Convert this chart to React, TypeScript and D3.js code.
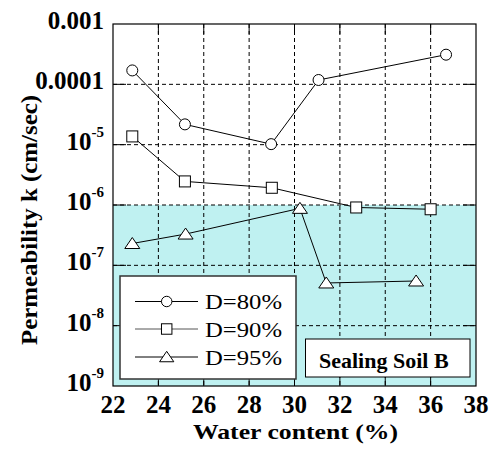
import React from "react";
import { scaleLinear, scaleLog, line } from "d3";

// water content (%) and permeability (cm/sec)
const d80x = [22.85, 25.17, 28.97, 31.06, 36.68];
const d80k = [1.7e-4, 2.17e-5, 1.02e-5, 1.18e-4, 3.1e-4];
const d90x = [22.85, 25.17, 29.0, 32.72, 36.0];
const d90k = [1.37e-5, 2.46e-6, 1.93e-6, 9.1e-7, 8.5e-7];
const d95x = [22.85, 25.2, 30.24, 31.4, 35.36];
const d95k = [2.3e-7, 3.3e-7, 8.8e-7, 5.1e-8, 5.5e-8];

const seriesNames = ["D=80%", "D=90%", "D=95%"];
const xTicks = [22, 24, 26, 28, 30, 32, 34, 36, 38];
const yTicks = [1e-3, 1e-4, 1e-5, 1e-6, 1e-7, 1e-8, 1e-9];
const yTickLabels: [string, string][] = [
  ["0.001", ""],
  ["0.0001", ""],
  ["10", "-5"],
  ["10", "-6"],
  ["10", "-7"],
  ["10", "-8"],
  ["10", "-9"],
];
const shadeTop = 1e-6;

const W = 492;
const H = 453;
const left = 113, right = 476, top = 24, bottom = 386;
const FAM = "Liberation Serif";

function Marker({ kind, x, y, s = 1 }: { kind: number; x: number; y: number; s?: number }) {
  if (kind === 0) return <circle cx={x} cy={y} r={5.5 * s} fill="white" stroke="black" strokeWidth={1} />;
  if (kind === 1)
    return <rect x={x - 5.5 * s} y={y - 5.5 * s} width={11 * s} height={11 * s} fill="white" stroke="black" strokeWidth={1} />;
  const p = `M${x},${y - 6 * s}L${x + 7.5 * s},${y + 5 * s}L${x - 7.5 * s},${y + 5 * s}Z`;
  return <path d={p} fill="white" stroke="black" strokeWidth={1} />;
}

export default function App() {
  const xScale = scaleLinear().domain([22, 38]).range([left, right]);
  const yScale = scaleLog().domain([1e-9, 1e-3]).range([bottom, top]);

  const series = [
    { xs: d80x, ks: d80k },
    { xs: d90x, ks: d90k },
    { xs: d95x, ks: d95k },
  ];
  const lineGen = line<[number, number]>()
    .x((d) => xScale(d[0]))
    .y((d) => yScale(d[1]));

  const legendRows = [301.5, 329, 357];

  return (
    <svg width={W} height={H} style={{ position: "absolute", left: 0, top: 0 }}>
      <style>{`text, tspan { font-family: "Liberation Serif" !important; }`}</style>
      <rect x={0} y={0} width={W} height={H} fill="white" />
      {/* shaded region below 1e-6 */}
      <rect x={left} y={yScale(shadeTop)} width={right - left} height={bottom - yScale(shadeTop)} fill="#bff1f1" />

      {/* grid */}
      <g stroke="black" strokeWidth={1} strokeDasharray="4,3">
        {xTicks.slice(1, -1).map((t) => (
          <line key={"gx" + t} x1={xScale(t)} x2={xScale(t)} y1={top} y2={bottom} />
        ))}
        {yTicks.slice(1, -1).map((t) => (
          <line key={"gy" + t} x1={left} x2={right} y1={yScale(t)} y2={yScale(t)} />
        ))}
      </g>

      {/* ticks */}
      <g stroke="black" strokeWidth={1}>
        {xTicks.slice(1, -1).map((t) => (
          <g key={"tx" + t}>
            <line x1={xScale(t)} x2={xScale(t)} y1={bottom} y2={bottom - 10} />
            <line x1={xScale(t)} x2={xScale(t)} y1={top} y2={top + 10} />
          </g>
        ))}
        {yTicks.slice(1, -1).map((t) => (
          <g key={"ty" + t}>
            <line x1={left} x2={left + 13} y1={yScale(t)} y2={yScale(t)} />
            <line x1={right} x2={right - 13} y1={yScale(t)} y2={yScale(t)} />
          </g>
        ))}
      </g>

      {/* frame */}
      <rect x={left} y={top} width={right - left} height={bottom - top} fill="none" stroke="black" strokeWidth={1.2} />

      {/* series */}
      {series.map((s, i) => (
        <g key={"s" + i}>
          <path
            d={lineGen(s.xs.map((x, j) => [x, s.ks[j]] as [number, number])) || ""}
            fill="none"
            stroke="black"
            strokeWidth={1}
          />
          {s.xs.map((x, j) => (
            <Marker key={j} kind={i} x={xScale(x)} y={yScale(s.ks[j])} />
          ))}
        </g>
      ))}

      {/* x tick labels */}
      {xTicks.map((t) => (
        <text key={"lx" + t} x={xScale(t)} y={413} textAnchor="middle" fontSize={25} fontWeight="bold" fontFamily={FAM}>
          {t}
        </text>
      ))}

      {/* y tick labels */}
      {yTicks.map((t, i) => (
        <text key={"ly" + t} x={104} y={yScale(t) + 5} textAnchor="end" fontSize={25} fontWeight="bold" fontFamily={FAM}>
          {yTickLabels[i][0]}
          {yTickLabels[i][1] && (
            <tspan dy={-13} fontSize={15}>
              {yTickLabels[i][1]}
            </tspan>
          )}
        </text>
      ))}

      {/* axis titles */}
      <text
        x={295.5}
        y={439}
        textAnchor="middle"
        fontSize={22}
        fontWeight="bold"
        fontFamily={FAM}
        textLength={205}
        lengthAdjust="spacingAndGlyphs"
      >
        Water content (%)
      </text>
      <text
        transform="translate(37,220) rotate(-90)"
        textAnchor="middle"
        fontSize={23}
        fontWeight="bold"
        fontFamily={FAM}
        textLength={250}
        lengthAdjust="spacingAndGlyphs"
      >
        Permeability k (cm/sec)
      </text>

      {/* legend */}
      <rect x={120} y={276} width={176} height={103} fill="white" stroke="#333" strokeWidth={1.5} />
      {seriesNames.map((n, i) => (
        <g key={"lg" + i}>
          <line x1={135} x2={198} y1={legendRows[i]} y2={legendRows[i]} stroke={i === 1 ? "#555" : "black"} strokeWidth={1} />
          <Marker kind={i} x={166.7} y={legendRows[i]} s={0.95} />
          <text
            x={205}
            y={legendRows[i] + 7.5}
            fontSize={22}
            fontFamily={FAM}
            textLength={77}
            lengthAdjust="spacingAndGlyphs"
          >
            {n}
          </text>
        </g>
      ))}

      {/* label box */}
      <rect x={305.5} y={339} width={164.5} height={38} fill="white" stroke="black" strokeWidth={1} />
      <text x={319} y={368} fontSize={22} fontWeight="bold" fontFamily={FAM}>
        Sealing Soil B
      </text>
    </svg>
  );
}
